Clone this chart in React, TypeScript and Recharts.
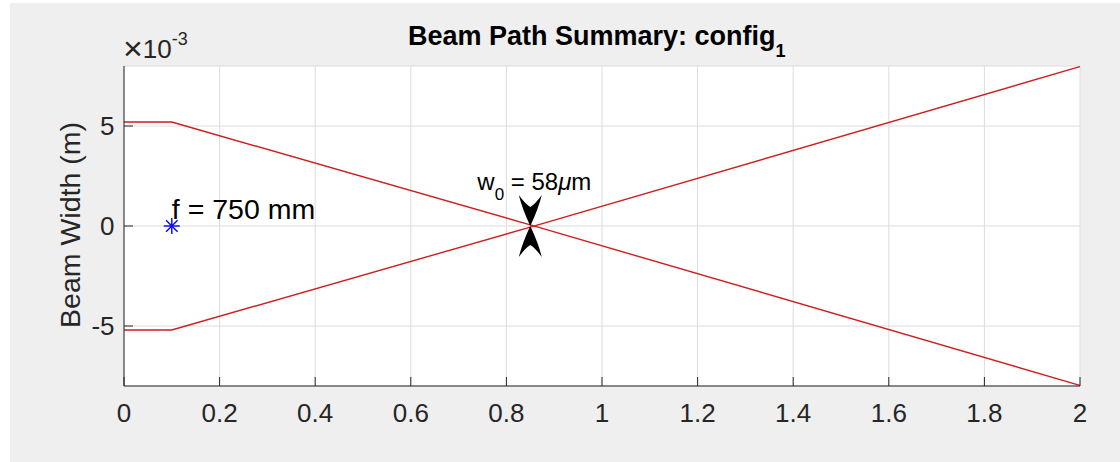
import React from 'react';
import { ComposedChart, Line, Scatter, XAxis, YAxis, CartesianGrid } from 'recharts';

// beam edge positions along the path (x in m, width in units of 1e-3 m)
const pathX = [0, 0.1, 0.85, 2];
const edgeTop = [5.2, 5.2, 0.058, -7.97];
const edgeBottom = [-5.2, -5.2, -0.058, 7.97];

const xTicks = [0, 0.2, 0.4, 0.6, 0.8, 1, 1.2, 1.4, 1.6, 1.8, 2];
const yTicks = [-5, 0, 5];

const lensX = [0.1];
const lensText = ['f = 750 mm'];
const waistX = [0.85];
const waistText = ['58'];

const beamData = pathX.map((x, i) => ({ x, top: edgeTop[i], bottom: edgeBottom[i] }));
const lensData = lensX.map((x, i) => ({ x, y: 0, label: lensText[i] }));
const waistData = waistX.map((x, i) => ({ x, y: 0, label: waistText[i] }));

const FONT = '"Liberation Sans", Arial, Helvetica, sans-serif';
const AXIS = '#262626';
const RED = '#cf1d1d';

const XTick = (props: any) => {
  const { x, y, payload } = props;
  return (
    <g>
      <line x1={x} y1={y} x2={x} y2={y - 9} stroke={AXIS} strokeWidth={1} />
      <text x={x} y={y + 36} textAnchor="middle" fontFamily={FONT} fontSize={26} fill={AXIS}>
        {String(payload.value)}
      </text>
    </g>
  );
};

const YTick = (props: any) => {
  const { x, y, payload } = props;
  return (
    <g>
      <line x1={x} y1={y} x2={x + 9} y2={y} stroke={AXIS} strokeWidth={1} />
      <text x={x - 9.5} y={y + 9} textAnchor="end" fontFamily={FONT} fontSize={26} fill={AXIS}>
        {String(payload.value)}
      </text>
    </g>
  );
};

// blue asterisk for the lens, with its focal length
const LensMark = (props: any) => {
  const { cx, cy, payload } = props;
  const r = 8;
  const d = r * 0.72;
  return (
    <g>
      <g stroke="#0000ff" strokeWidth={1.4}>
        <line x1={cx - r} y1={cy} x2={cx + r} y2={cy} />
        <line x1={cx} y1={cy - r} x2={cx} y2={cy + r} />
        <line x1={cx - d} y1={cy - d} x2={cx + d} y2={cy + d} />
        <line x1={cx - d} y1={cy + d} x2={cx + d} y2={cy - d} />
      </g>
      <text x={cx} y={cy - 7} fontFamily={FONT} fontSize={28.5} fill="#000">
        {payload.label}
      </text>
    </g>
  );
};

// two arrowheads pinching the waist
const WaistMark = (props: any) => {
  const { cx, cy, payload } = props;
  const head = (s: number) =>
    `M${cx},${cy} Q${cx - 8},${cy - s * 17} ${cx - 11.5},${cy - s * 31} Q${cx - 5},${cy - s * 22} ${cx},${cy - s * 19} Q${cx + 5},${cy - s * 22} ${cx + 11.5},${cy - s * 31} Q${cx + 8},${cy - s * 17} ${cx},${cy} Z`;
  return (
    <g>
      <path d={head(1)} fill="#000" />
      <path d={head(-1)} fill="#000" />
      <text x={cx - 53} y={cy - 36} fontFamily={FONT} fontSize={24} fill="#000">
        w
        <tspan fontSize={17} dy={10}>0</tspan>
        <tspan dy={-10}> = {payload.label}</tspan>
        <tspan fontStyle="italic">μ</tspan>
        <tspan>m</tspan>
      </text>
    </g>
  );
};

export default function App() {
  return (
    <div style={{ position: 'absolute', left: 0, top: 0, width: 1120, height: 462, background: '#fff' }}>
      <div style={{ position: 'absolute', left: 10, top: 3, width: 1110, height: 459, background: '#efefef' }}>
        <ComposedChart
          width={1110}
          height={459}
          data={beamData}
          margin={{ top: 63, right: 40, bottom: 0, left: 0 }}
        >
          <CartesianGrid stroke="#dcdcdc" fill="#ffffff" />
          <XAxis
            dataKey="x"
            type="number"
            domain={[0, 2]}
            ticks={xTicks}
            interval={0}
            height={76}
            tickSize={0}
            tickMargin={0}
            tickLine={false}
            axisLine={{ stroke: AXIS, strokeWidth: 1 }}
            tick={<XTick />}
            allowDataOverflow
          />
          <YAxis
            type="number"
            domain={[-8, 8]}
            ticks={yTicks}
            interval={0}
            width={114}
            tickSize={0}
            tickMargin={0}
            tickLine={false}
            axisLine={{ stroke: AXIS, strokeWidth: 1 }}
            tick={<YTick />}
            allowDataOverflow
          />
          <Line type="linear" dataKey="top" stroke={RED} strokeWidth={1.4} dot={false} isAnimationActive={false} />
          <Line type="linear" dataKey="bottom" stroke={RED} strokeWidth={1.4} dot={false} isAnimationActive={false} />
          <Scatter data={lensData} dataKey="y" shape={<LensMark />} isAnimationActive={false} />
          <Scatter data={waistData} dataKey="y" shape={<WaistMark />} isAnimationActive={false} />
        </ComposedChart>
      </div>
      <svg
        width={1120}
        height={462}
        style={{ position: 'absolute', left: 0, top: 0, pointerEvents: 'none' }}
      >
        <text x={408} y={45} fontFamily={FONT} fontSize={27} fontWeight="bold" fill="#000">
          Beam Path Summary: config
          <tspan fontSize={18} dy={12}>1</tspan>
        </text>
        <text x={123} y={58} fontFamily={FONT} fontSize={26} fill={AXIS}>
          <tspan fontSize={34} dy={2}>×</tspan>
          <tspan dy={-2}>10</tspan>
          <tspan fontSize={18} dy={-13}>-3</tspan>
        </text>
        <text
          transform="translate(80,225) rotate(-90)"
          textAnchor="middle"
          fontFamily={FONT}
          fontSize={28.5}
          fill={AXIS}
        >
          Beam Width (m)
        </text>
      </svg>
    </div>
  );
}
